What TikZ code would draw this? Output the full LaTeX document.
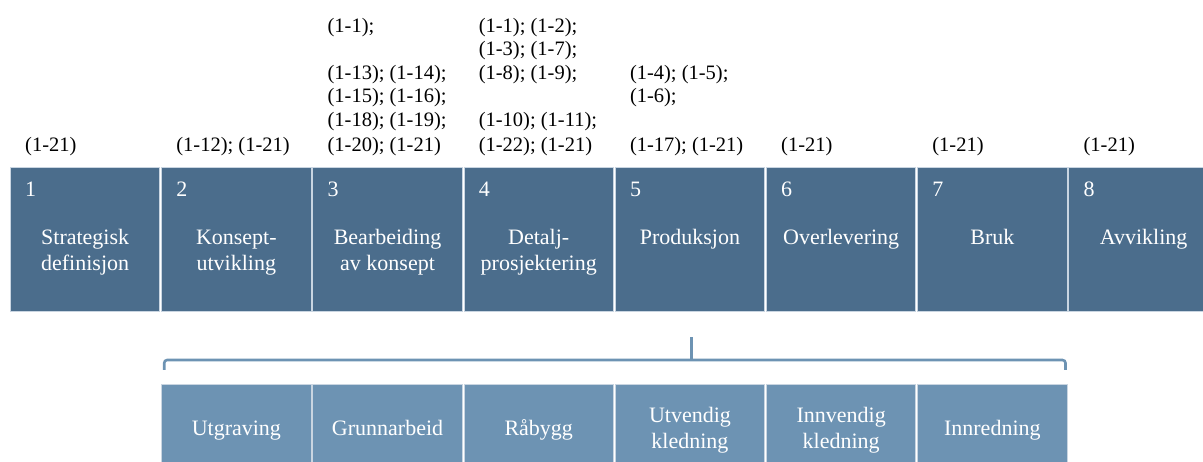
\documentclass[tikz,border=0pt]{standalone}
\usepackage{fontspec}
\setmainfont{Liberation Serif}
\usetikzlibrary{calc}
\definecolor{phase}{HTML}{4B6D8C}
\definecolor{subphase}{HTML}{6D93B3}
\definecolor{edge}{HTML}{C9D5E1}

\begin{document}
\begin{tikzpicture}[x=1pt,y=-1pt,
  phasebox/.style={fill=phase, draw=edge, line width=1pt, minimum width=149.3pt,
    minimum height=144.5pt, anchor=north west, inner sep=0pt},
  subbox/.style={fill=subphase, draw=edge, line width=1pt, minimum width=149.3pt,
    minimum height=88pt, anchor=north west, inner sep=0pt},
  sublabel/.style={anchor=center, inner sep=0pt, text=white,
    font=\fontsize{22}{26.5}\selectfont},
  phasenum/.style={anchor=base west, inner sep=0pt, text=white,
    font=\fontsize{22}{26.5}\selectfont},
  phaselabel/.style={anchor=base, inner sep=0pt, text=white,
    font=\fontsize{22}{26.5}\selectfont},
  reflist/.style={anchor=base west, inner sep=0pt,
    font=\fontsize{20.5}{23.5}\selectfont},
  bracket/.style={draw=subphase, line width=2.6pt, rounded corners=3pt}]

\useasboundingbox (0,0) rectangle (1203,462);
\clip (0,0) rectangle (1203,462);

% main phases
\foreach \i/\num/\txt in {
  1/1/{Strategisk\\definisjon},
  2/2/{Konsept-\\utvikling},
  3/3/{Bearbeiding\\av konsept},
  4/4/{Detalj-\\prosjektering},
  5/5/{Produksjon},
  6/6/{Overlevering},
  7/7/{Bruk},
  8/8/{Avvikling}} {
  \node[phasebox] (p\i) at ({10+151.2*(\i-1)},167) {};
  \node[phasenum] (n\i) at ($(p\i.north west)+(15,30)$) {\num};
  \node[phaselabel] (l\i) at ($(p\i.north)+(0,77.5)$)
    {\begin{tabular}[t]{@{}c@{}}\txt\end{tabular}};
}

% reference lists above each phase
\foreach \i/\txt in {
  1/{(1-21)},
  2/{(1-12); (1-21)},
  3/{(1-1);\\ \\(1-13); (1-14);\\(1-15); (1-16);\\(1-18); (1-19);\\[1.5pt](1-20); (1-21)},
  4/{(1-1); (1-2);\\(1-3); (1-7);\\(1-8); (1-9);\\ \\(1-10); (1-11);\\[1.5pt](1-22); (1-21)},
  5/{(1-4); (1-5);\\(1-6);\\ \\[1.5pt](1-17); (1-21)},
  6/{(1-21)},
  7/{(1-21)},
  8/{(1-21)}} {
  \node[reflist] (r\i) at ($(p\i.north west)+(15,-15.5)$)
    {\begin{tabular}[b]{@{}l@{}}\txt\end{tabular}};
}

% sub-phases of production
\foreach \i/\txt in {
  1/{Utgraving},
  2/{Grunnarbeid},
  3/{Råbygg},
  4/{Utvendig\\kledning},
  5/{Innvendig\\kledning},
  6/{Innredning}} {
  \node[subbox] (s\i) at ({161.2+151.2*(\i-1)},384) {};
  \node[sublabel] (t\i) at ($(s\i.center)+(0,1.5)$)
    {\begin{tabular}{@{}c@{}}\txt\end{tabular}};
}

% bracket grouping the sub-phases
\coordinate (bl) at ($(s1.north west)+(3,-14)$);
\coordinate (br) at ($(s6.north east)+(-2,-14)$);
\coordinate (bm) at ($(p5.south)+(1.5,0)$);
\draw[bracket] (bl) |- ($(bm)+(0,47.5)$) -| (br);
\draw[draw=subphase, line width=2.6pt] ($(bm)+(0,47.5)$) -- ($(bm)+(0,24.5)$);
\end{tikzpicture}
\end{document}
